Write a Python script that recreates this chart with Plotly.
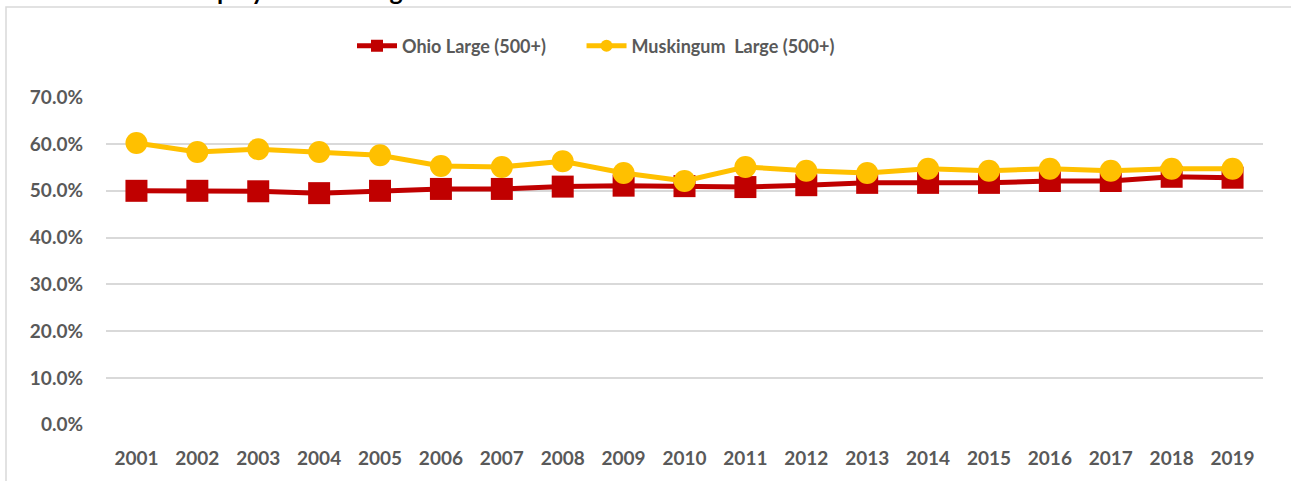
import plotly.graph_objects as go

years = [str(y) for y in range(2001, 2020)]
ohio_large = [50.0, 50.0, 49.9, 49.5, 50.0, 50.4, 50.4, 50.9, 51.1, 51.0, 50.8, 51.2, 51.7, 51.7, 51.7, 52.1, 52.1, 53.0, 52.8]
musk_large = [60.2, 58.3, 58.9, 58.3, 57.6, 55.3, 55.1, 56.3, 53.8, 52.1, 55.1, 54.3, 53.8, 54.7, 54.3, 54.7, 54.3, 54.7, 54.7]
y_ticks = [0, 10, 20, 30, 40, 50, 60, 70]
y_labels = [f"{v:.1f}%" for v in y_ticks]

FONT = "Lato"
GRAY = "#595959"

fig = go.Figure()
fig.add_trace(go.Scatter(
    x=years, y=ohio_large, name="Ohio Large (500+)" + "\u00a0" * 7, mode="lines+markers",
    line=dict(color="#C00000", width=5),
    marker=dict(symbol="square", size=22, color="#C00000"),
))
fig.add_trace(go.Scatter(
    x=years, y=musk_large, name="Muskingum\u00a0 Large (500+)", mode="lines+markers",
    line=dict(color="#FFC000", width=5),
    marker=dict(symbol="circle", size=22, color="#FFC000"),
))

L, R, T, B = 106, 1263, 97, 425
W, H = 1291, 481

fig.update_layout(
    width=W, height=H,
    margin=dict(l=L, r=W - R, t=T, b=H - B),
    paper_bgcolor="white", plot_bgcolor="white",
    font=dict(family=FONT, color=GRAY),
    showlegend=True,
    legend=dict(
        orientation="h", xref="container", yref="container",
        x=596 / W, xanchor="center", y=1 - 46 / H, yanchor="middle",
        font=dict(size=18, color=GRAY, family=FONT, weight="bold"),
        itemsizing="constant", itemwidth=40, tracegroupgap=0,
        bgcolor="rgba(0,0,0,0)",
    ),
    xaxis=dict(
        type="category", range=[-0.5, 18.5],
        showgrid=False, showline=False, zeroline=False,
        ticks="outside", ticklen=16, tickcolor="rgba(0,0,0,0)",
        tickfont=dict(size=19, family=FONT, color=GRAY, weight="bold"),
    ),
    yaxis=dict(
        range=[-0.05, 70.05], tickvals=y_ticks, ticktext=y_labels,
        showgrid=True, gridcolor="#D9D9D9", gridwidth=1.5,
        zeroline=False, showline=False,
        ticks="", ticklabelstandoff=22,
        tickfont=dict(size=19, family=FONT, color=GRAY, weight="bold"),
    ),
    shapes=[dict(
        type="rect", xref="paper", yref="paper",
        x0=(6 - L) / (R - L), x1=1.5,
        y0=-1.0, y1=(B - 7) / (B - T),
        line=dict(color="#D9D9D9", width=1.5), fillcolor="rgba(0,0,0,0)",
        layer="below",
    )],
    annotations=[dict(
        text="Employment in Large Establishments", showarrow=False,
        xref="paper", yref="paper",
        x=(180 - L) / (R - L), xanchor="left",
        y=(B + 10) / (B - T), yanchor="middle",
        font=dict(size=25, family=FONT, color="black", weight="bold"),
    )],
)

fig.write_html(
    "out.html",
    config={"displayModeBar": False},
    post_script="document.body.style.margin='0';document.body.style.overflow='hidden';",
)
